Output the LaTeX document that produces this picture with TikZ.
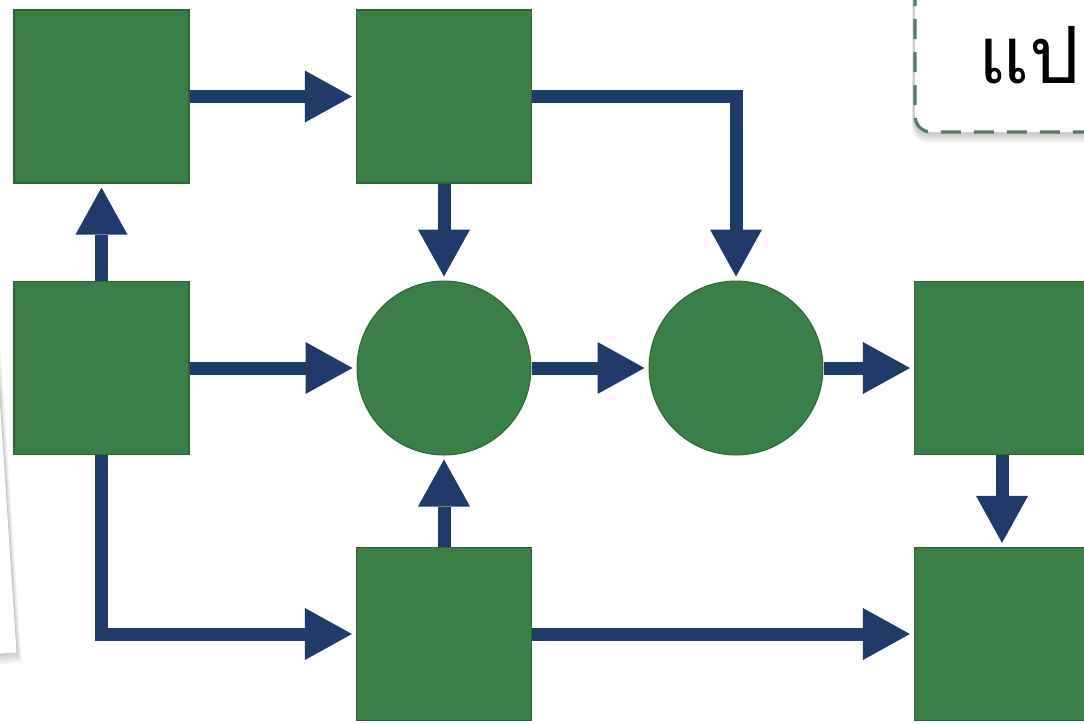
\documentclass[tikz,border=0pt]{standalone}
\usepackage{fontspec}
\newfontfamily\thaifont[Script=Thai]{Loma}
\usetikzlibrary{arrows.meta}
\definecolor{gfill}{HTML}{3A7F45}
\definecolor{gline}{HTML}{2C6635}
\definecolor{navy}{HTML}{1F3B69}
\definecolor{dashc}{HTML}{557A60}
\begin{document}
\begin{tikzpicture}[x=1pt,y=-1pt,
  sq/.style={rectangle, fill=gfill, draw=gline, line width=1.2pt, minimum width=175pt, minimum height=173pt, inner sep=0pt},
  circ/.style={circle, fill=gfill, draw=gline, line width=1pt, minimum size=174pt, inner sep=0pt},
  flow/.style={draw=navy, line width=13pt, line join=miter, -{Triangle[length=47pt,width=52pt,line width=0pt]}, shorten >=4pt}
]
\useasboundingbox (0,0) rectangle (1084,723);
\fill[white] (0,0) rectangle (1084,723);
\begin{scope}
\clip (0,0) rectangle (1084,723);
% tilted paper on the left
\foreach \s in {1,...,6}
  \fill[black,opacity=0.03] (-80,200) -- (-13+\s*0.6,200) -- (17+\s*0.8,653+\s*1.6) -- (-80,659+\s*2.2) -- cycle;
\draw[black!22, line width=0.8pt, fill=white] (-80,200) -- (-13,200) -- (17,653) -- (-80,659) -- cycle;
% dashed label box top right
\foreach \s in {1,...,6}
  \fill[black,opacity=0.035,rounded corners=16pt] (914-\s*0.4,-30) rectangle (1130,133+\s*1.6);
\draw[dashc, line width=3.2pt, dash pattern=on 20pt off 13pt, fill=white, rounded corners=16pt] (915,-30) rectangle (1130,132);
\node[anchor=base west, inner sep=0pt, font=\thaifont\fontsize{79}{79}\selectfont] (lbl) at (978,83) {แป};
\end{scope}
% nodes
\node[sq] (tl) at (101.5,96.5) {};
\node[sq] (tm) at (444,96.5) {};
\node[sq] (ml) at (101.5,368) {};
\node[circ] (c1) at (444,368) {};
\node[circ] (c2) at (736,368) {};
\node[sq] (mr) at (1002,368) {};
\node[sq] (bm) at (444,634) {};
\node[sq] (br) at (1002,634) {};
% connectors
\draw[flow] (tl) -- (tm);
\draw[flow] (ml) -- (tl);
\draw[flow] (ml) -- (c1);
\draw[flow] (tm) -- (c1);
\draw[flow] (tm.east) -| (c2.north);
\draw[flow] (c1) -- (c2);
\draw[flow] (c2) -- (mr);
\draw[flow] (mr) -- (br);
\draw[flow] (ml.south) |- (bm.west);
\draw[flow] (bm) -- (c1);
\draw[flow] (bm) -- (br);
\end{tikzpicture}
\end{document}
